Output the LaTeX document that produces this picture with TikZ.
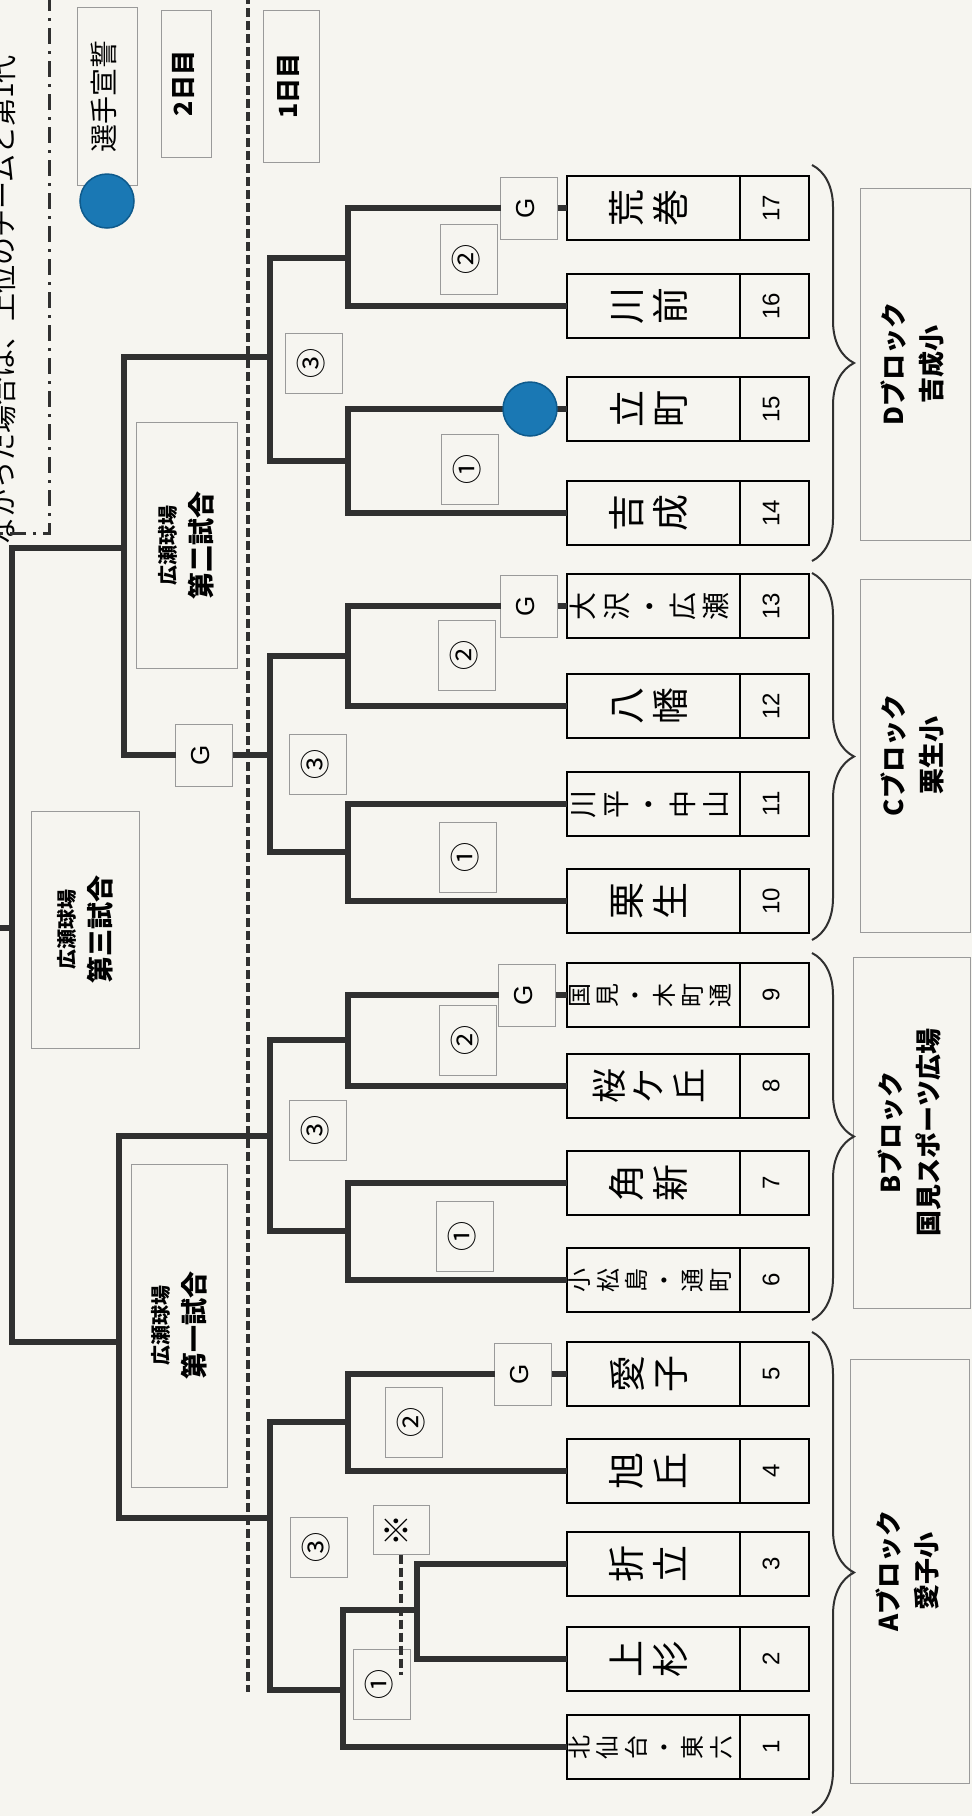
\documentclass[tikz,border=0pt]{standalone}
\usepackage{fontspec}
\usepackage{graphicx}
\setmainfont{Noto Sans CJK JP}
\newfontfamily\numfont{Liberation Sans}
\usetikzlibrary{positioning,decorations.pathreplacing}
\definecolor{ink}{HTML}{303030}
\definecolor{paper}{HTML}{F6F5F0}
\definecolor{frame}{HTML}{9A9A9A}
\definecolor{sealblue}{HTML}{1A78B4}
\definecolor{sealedge}{HTML}{0E5A8C}
\newcommand{\rottext}[1]{\rotatebox{90}{\begin{tabular}{@{}c@{}}#1\end{tabular}}}

\begin{document}
\begin{tikzpicture}[x=1pt, y=-1pt,
  namebox/.style={draw=black, line width=2.4pt, minimum width=173pt, minimum height=64pt, inner sep=0pt, outer sep=0pt},
  numbox/.style={namebox, minimum width=69pt, font=\numfont\fontsize{24}{24}\selectfont},
  nm2/.style={font=\fontsize{37}{43}\selectfont},
  nm3/.style={font=\fontsize{35}{39}\selectfont},
  nm5/.style={font=\fontsize{28}{33}\selectfont},
  nm6/.style={font=\fontsize{24}{28}\selectfont},
  roundbox/.style={draw=frame, line width=1pt, fill=paper, minimum width=57pt, minimum height=70pt, inner sep=0pt, outer sep=0pt, font=\fontsize{30}{30}\selectfont},
  thirdbox/.style={roundbox, minimum height=60pt},
  gbox/.style={roundbox, minimum height=62pt, font=\numfont\fontsize{26}{26}\selectfont},
  infobox/.style={draw=frame, line width=1pt, inner sep=0pt, outer sep=0pt},
  blockbox/.style={infobox, font=\bfseries\fontsize{26}{38}\selectfont},
  venuebox/.style={infobox, font=\bfseries\fontsize{27}{36}\selectfont},
  bline/.style={draw=ink, line width=6pt},
  daydash/.style={draw=ink, line width=3.5pt, dash pattern=on 9pt off 4pt},
  ruledash/.style={draw=ink, line width=3pt, dash pattern=on 16pt off 7pt on 3pt off 7pt},
  brc/.style={draw=ink, line width=2pt, decorate, decoration={brace, amplitude=42pt}},
  seal/.style={circle, fill=sealblue, draw=sealedge, line width=1.5pt, minimum size=54pt, inner sep=0pt}
]
\useasboundingbox (0,0) rectangle (972,1816);
\fill[paper] (0,0) rectangle (972,1816);

\node[rotate=90, anchor=west, inner sep=0pt, font=\fontsize{28}{28}\selectfont] (note) at (3, 546) {なかった場合は、上位のチームと第1代};
\node[infobox, minimum width=60pt, minimum height=178pt, font=\fontsize{28}{28}\selectfont] (oath) at (107, 96) {\rottext{選手宣誓}};
\node[seal] (oathkey) at (107, 201) {};
\node[infobox, minimum width=50pt, minimum height=147pt, font=\bfseries\fontsize{25}{25}\selectfont] (day2) at (186, 83.5) {\rottext{2日目}};
\node[infobox, minimum width=56pt, minimum height=152pt, font=\bfseries\fontsize{25}{25}\selectfont] (day1) at (291, 86) {\rottext{1日目}};

\node[namebox, nm2] (t17) at (653.5, 208) {\rottext{荒\\巻}};
\node[numbox, right=0pt of t17] (n17) {\rottext{17}};
\node[namebox, nm2] (t16) at (653.5, 306) {\rottext{川\\前}};
\node[numbox, right=0pt of t16] (n16) {\rottext{16}};
\node[namebox, nm2] (t15) at (653.5, 409) {\rottext{立\\町}};
\node[numbox, right=0pt of t15] (n15) {\rottext{15}};
\node[namebox, nm2] (t14) at (653.5, 513) {\rottext{吉\\成}};
\node[numbox, right=0pt of t14] (n14) {\rottext{14}};
\node[namebox, nm5] (t13) at (653.5, 606) {\rottext{大\\沢\\・\\広\\瀬}};
\node[numbox, right=0pt of t13] (n13) {\rottext{13}};
\node[namebox, nm2] (t12) at (653.5, 706) {\rottext{八\\幡}};
\node[numbox, right=0pt of t12] (n12) {\rottext{12}};
\node[namebox, nm5] (t11) at (653.5, 804) {\rottext{川\\平\\・\\中\\山}};
\node[numbox, right=0pt of t11] (n11) {\rottext{11}};
\node[namebox, nm2] (t10) at (653.5, 901) {\rottext{栗\\生}};
\node[numbox, right=0pt of t10] (n10) {\rottext{10}};
\node[namebox, nm6] (t9) at (653.5, 995) {\rottext{国\\見\\・\\木\\町\\通}};
\node[numbox, right=0pt of t9] (n9) {\rottext{9}};
\node[namebox, nm3] (t8) at (653.5, 1086) {\rottext{桜\\ケ\\丘}};
\node[numbox, right=0pt of t8] (n8) {\rottext{8}};
\node[namebox, nm2] (t7) at (653.5, 1183) {\rottext{角\\新}};
\node[numbox, right=0pt of t7] (n7) {\rottext{7}};
\node[namebox, nm6] (t6) at (653.5, 1280) {\rottext{小\\松\\島\\・\\通\\町}};
\node[numbox, right=0pt of t6] (n6) {\rottext{6}};
\node[namebox, nm2] (t5) at (653.5, 1374) {\rottext{愛\\子}};
\node[numbox, right=0pt of t5] (n5) {\rottext{5}};
\node[namebox, nm2] (t4) at (653.5, 1471) {\rottext{旭\\丘}};
\node[numbox, right=0pt of t4] (n4) {\rottext{4}};
\node[namebox, nm2] (t3) at (653.5, 1564) {\rottext{折\\立}};
\node[numbox, right=0pt of t3] (n3) {\rottext{3}};
\node[namebox, nm2] (t2) at (653.5, 1659) {\rottext{上\\杉}};
\node[numbox, right=0pt of t2] (n2) {\rottext{2}};
\node[namebox, nm6] (t1) at (653.5, 1747) {\rottext{北\\仙\\台\\・\\東\\六}};
\node[numbox, right=0pt of t1] (n1) {\rottext{1}};

\node[blockbox, minimum width=110pt, minimum height=352pt] (blkD) at (915, 364) {\rottext{Dブロック\\吉成小}};
\node[blockbox, minimum width=110pt, minimum height=353pt] (blkC) at (915, 755.5) {\rottext{Cブロック\\栗生小}};
\node[blockbox, minimum width=117pt, minimum height=351pt] (blkB) at (911.5, 1132.5) {\rottext{Bブロック\\国見スポーツ広場}};
\node[blockbox, minimum width=119pt, minimum height=424pt] (blkA) at (909.5, 1571) {\rottext{Aブロック\\愛子小}};

\draw[brc] ([xshift=3pt, yshift=11pt]n17.north east) -- ([xshift=3pt, yshift=-16pt]n14.south east);
\draw[brc] ([xshift=3pt, yshift=1pt]n13.north east) -- ([xshift=3pt, yshift=-7pt]n10.south east);
\draw[brc] ([xshift=3pt, yshift=10pt]n9.north east) -- ([xshift=3pt, yshift=-8pt]n6.south east);
\draw[brc] ([xshift=3pt, yshift=10pt]n5.north east) -- ([xshift=3pt, yshift=-34pt]n1.south east);

\node[venuebox, minimum width=101pt, minimum height=246pt] (venue2) at (186.5, 545) {\rottext{{\fontsize{20}{36}\selectfont 広瀬球場}\\第二試合}};
\node[venuebox, minimum width=108pt, minimum height=237pt] (venue3) at (85, 929.5) {\rottext{{\fontsize{20}{36}\selectfont 広瀬球場}\\第三試合}};
\node[venuebox, minimum width=96pt, minimum height=323pt] (venue1) at (179, 1325.5) {\rottext{{\fontsize{20}{36}\selectfont 広瀬球場}\\第一試合}};

\node[gbox] (gD) at (529, 208) {\rottext{G}};
\node[gbox] (gC) at (529, 606) {\rottext{G}};
\node[gbox] (gB) at (527, 995) {\rottext{G}};
\node[gbox] (gA) at (523, 1374) {\rottext{G}};
\node[gbox] (gCD) at (204, 755) {\rottext{G}};

\node[roundbox] (rD2) at (469, 259) {\rottext{②}};
\node[roundbox] (rD1) at (470, 469) {\rottext{①}};
\node[thirdbox] (rD3) at (314, 363) {\rottext{③}};
\node[roundbox] (rC2) at (467, 655) {\rottext{②}};
\node[roundbox] (rC1) at (468, 857) {\rottext{①}};
\node[thirdbox] (rC3) at (318, 764) {\rottext{③}};
\node[roundbox] (rB2) at (468, 1040) {\rottext{②}};
\node[roundbox] (rB1) at (465, 1236) {\rottext{①}};
\node[thirdbox] (rB3) at (318, 1130) {\rottext{③}};
\node[roundbox] (rA2) at (414, 1422) {\rottext{②}};
\node[roundbox] (rA1) at (382, 1684) {\rottext{①}};
\node[thirdbox] (rA3) at (319, 1547) {\rottext{③}};
\node[roundbox, minimum width=56pt, minimum height=49pt, font=\fontsize{32}{32}\selectfont] (kome) at (401, 1530) {\rottext{※}};

\coordinate (d2) at (348, 258);
\coordinate (d1) at (348, 461);
\coordinate (d3) at (270, 357);
\coordinate (c2) at (348, 656);
\coordinate (c1) at (348, 852);
\coordinate (c3) at (270, 755);
\coordinate (b2) at (348, 1040);
\coordinate (b1) at (348, 1231);
\coordinate (b3) at (270, 1136);
\coordinate (a2) at (348, 1422);
\coordinate (a0) at (417, 1610);
\coordinate (a1) at (343, 1690);
\coordinate (a3) at (270, 1518);
\coordinate (s2) at (124, 548);
\coordinate (s1) at (119, 1342);
\coordinate (fin) at (12, 928);
\coordinate (out) at (-10, 928);
\coordinate (komeend) at (401, 1675);

\draw[bline] (gD.west) -| (d2) |- (t16.west);
\draw[bline] (gD.east) -- (t17.west);
\draw[bline] (t15.west) -| (d1) |- (t14.west);
\draw[bline] (d2) -| (d3);
\draw[bline] (d1) -| (d3);
\draw[bline] (d3) -| (s2);

\draw[bline] (gC.west) -| (c2) |- (t12.west);
\draw[bline] (gC.east) -- (t13.west);
\draw[bline] (t11.west) -| (c1) |- (t10.west);
\draw[bline] (c2) -| (c3);
\draw[bline] (c1) -| (c3);
\draw[bline] (gCD.east) -- (c3);
\draw[bline] (gCD.west) -| (s2);

\draw[bline] (gB.west) -| (b2) |- (t8.west);
\draw[bline] (gB.east) -- (t9.west);
\draw[bline] (t7.west) -| (b1) |- (t6.west);
\draw[bline] (b2) -| (b3);
\draw[bline] (b1) -| (b3);
\draw[bline] (b3) -| (s1);

\draw[bline] (gA.west) -| (a2) |- (t4.west);
\draw[bline] (gA.east) -- (t5.west);
\draw[bline] (t3.west) -| (a0) |- (t2.west);
\draw[bline] (a0) -| (a1) |- (t1.west);
\draw[bline] (a2) -| (a3);
\draw[bline] (a1) -| (a3);
\draw[bline] (a3) -| (s1);

\draw[bline] (s2) -| (fin);
\draw[bline] (s1) -| (fin);
\draw[bline] (fin) -- (out);

\node[seal] (pledge) at (530, 409) {};

\draw[daydash] (kome.south) -- (komeend);
\draw[daydash] (248, -5) -- (248, 1692);
\draw[ruledash] (49, -5) -- (49, 533) -- (-5, 533);
\end{tikzpicture}
\end{document}
